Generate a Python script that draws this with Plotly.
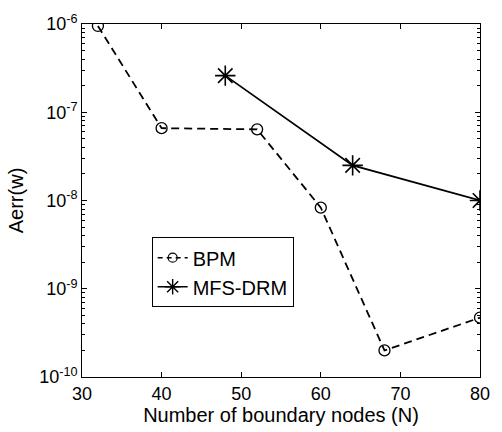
import plotly.graph_objects as go

bpm_n = [32, 40, 52, 60, 68, 80]
bpm_err = [9.5e-7, 6.6e-8, 6.4e-8, 8.3e-9, 2.0e-10, 4.7e-10]
mfs_n = [48, 64, 80]
mfs_err = [2.6e-7, 2.5e-8, 1.0e-8]

x_ticks = [30, 40, 50, 60, 70, 80]
y_tick_vals = [1e-10, 1e-9, 1e-8, 1e-7, 1e-6]
y_tick_text = ["10<sup>-10</sup>", "10<sup>-9</sup>", "10<sup>-8</sup>", "10<sup>-7</sup>", "10<sup>-6</sup>"]
minor_vals = [k * 10.0 ** e for e in range(-10, -6) for k in range(2, 10)]

bpm_line = dict(color="black", width=1.8, dash="8px,5px")
mfs_line = dict(color="black", width=1.8)

fig = go.Figure()
fig.add_trace(go.Scatter(
    x=bpm_n, y=bpm_err, name="BPM", mode="lines+markers", showlegend=False,
    line=bpm_line,
    marker=dict(symbol="circle-open", size=11, color="black", line=dict(width=1.3)),
))
fig.add_trace(go.Scatter(
    x=mfs_n, y=mfs_err, name="MFS-DRM", mode="lines+markers", showlegend=False,
    line=mfs_line,
    marker=dict(symbol="asterisk-open", size=17, color="black", line=dict(width=1.6)),
))
# legend entries (same styles, compact markers)
fig.add_trace(go.Scatter(
    x=[None], y=[None], name="BPM", mode="lines+markers",
    line=dict(color="black", width=1.5, dash="5px,4px"),
    marker=dict(symbol="circle-open", size=9, color="black", line=dict(width=1.2)),
))
fig.add_trace(go.Scatter(
    x=[None], y=[None], name="MFS-DRM", mode="lines+markers",
    line=dict(color="black", width=1.5),
    marker=dict(symbol="asterisk-open", size=13, color="black", line=dict(width=1.4)),
))

tick_font = dict(family="Liberation Sans, Arial, sans-serif", size=18, color="black")
title_font = dict(family="Liberation Sans, Arial, sans-serif", size=20, color="black")
fig.update_layout(
    width=502, height=432,
    margin=dict(l=82, r=14, t=21, b=52),
    paper_bgcolor="white", plot_bgcolor="white",
    font=tick_font,
    showlegend=True,
    legend=dict(x=0.175, y=0.396, xanchor="left", yanchor="top",
                bordercolor="black", borderwidth=1, bgcolor="white",
                font=title_font, tracegroupgap=0, itemwidth=30),
    xaxis=dict(range=[30, 80], tickmode="array", tickvals=x_ticks,
               ticks="inside", ticklen=5, tickcolor="black",
               showline=True, linecolor="black", linewidth=1, mirror="ticks",
               showgrid=False, zeroline=False, tickfont=tick_font,
               title=dict(text="Number of boundary nodes (N)", font=title_font, standoff=2)),
    yaxis=dict(type="log", range=[-10, -6], tickmode="array",
               tickvals=y_tick_vals, ticktext=y_tick_text,
               ticks="inside", ticklen=5, tickcolor="black",
               showline=True, linecolor="black", linewidth=1, mirror="ticks",
               showgrid=False, zeroline=False, tickfont=tick_font,
               minor=dict(tickmode="array", tickvals=minor_vals, ticks="inside",
                          ticklen=3, tickcolor="black", showgrid=False),
               title=dict(text="Aerr(w)", font=title_font, standoff=10)),
)
fig.write_html("out.html")
